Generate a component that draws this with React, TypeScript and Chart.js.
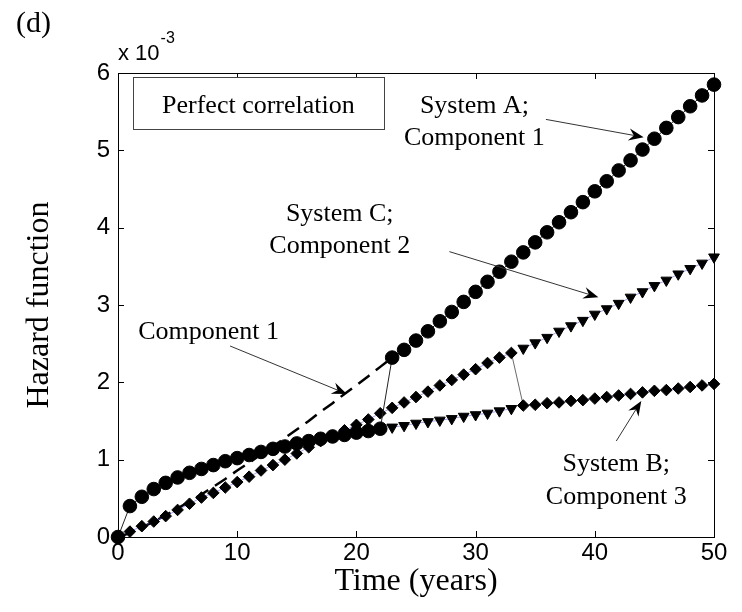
import React, { useEffect, useRef } from "react";
import { Chart, registerables } from "chart.js";

Chart.register(...registerables);

// Time (years)
const years = [
  0, 1, 2, 3, 4, 5, 6, 7, 8, 9, 10, 11, 12, 13, 14, 15, 16, 17, 18, 19, 20, 21, 22, 23, 24, 25,
  26, 27, 28, 29, 30, 31, 32, 33, 34, 35, 36, 37, 38, 39, 40, 41, 42, 43, 44, 45, 46, 47, 48, 49, 50,
];
// Hazard function values, in units of 10^-3
// System A (circles)
const systemA = [
  0, 0.4, 0.52, 0.62, 0.7, 0.77, 0.83, 0.88, 0.93, 0.98, 1.02, 1.06, 1.1, 1.14, 1.17, 1.21, 1.24,
  1.27, 1.3, 1.32, 1.35, 1.37, 1.4, 2.32, 2.42, 2.54, 2.66, 2.79, 2.91, 3.04, 3.17, 3.3, 3.43, 3.56,
  3.68, 3.81, 3.94, 4.07, 4.2, 4.33, 4.47, 4.6, 4.74, 4.87, 5.01, 5.15, 5.29, 5.43, 5.57, 5.71, 5.85,
];
// System B (diamonds)
const systemB = [
  0, 0.07, 0.14, 0.2, 0.27, 0.35, 0.43, 0.51, 0.57, 0.64, 0.71, 0.78, 0.86, 0.93, 1.0, 1.08, 1.16,
  1.24, 1.31, 1.38, 1.45, 1.52, 1.6, 1.67, 1.74, 1.81, 1.88, 1.96, 2.03, 2.1, 2.17, 2.25, 2.32, 2.38,
  1.7, 1.71, 1.73, 1.74, 1.76, 1.77, 1.79, 1.81, 1.83, 1.85, 1.87, 1.89, 1.9, 1.92, 1.94, 1.96, 1.98,
];
// System C (triangles)
const yearsC = [
  23, 24, 25, 26, 27, 28, 29, 30, 31, 32, 33, 34, 35, 36, 37, 38, 39, 40, 41, 42, 43, 44, 45, 46, 47,
  48, 49, 50,
];
const systemC = [
  1.42, 1.44, 1.47, 1.49, 1.51, 1.53, 1.56, 1.58, 1.6, 1.63, 1.66, 2.44, 2.51, 2.58, 2.66, 2.73, 2.8,
  2.88, 2.95, 3.02, 3.1, 3.17, 3.25, 3.32, 3.4, 3.47, 3.54, 3.62,
];
// Component 1 (dashed)
const yearsComponent1 = [
  0, 1, 2, 3, 4, 5, 6, 7, 8, 9, 10, 11, 12, 13, 14, 15, 16, 17, 18, 19, 20, 21, 22, 23,
];
const component1 = [
  0, 0.05, 0.12, 0.2, 0.28, 0.37, 0.46, 0.55, 0.65, 0.75, 0.86, 0.96, 1.07, 1.17, 1.28, 1.39, 1.5,
  1.62, 1.73, 1.85, 1.96, 2.08, 2.2, 2.32,
];
const xTickValues = [0, 10, 20, 30, 40, 50];
const yTickValues = [0, 1, 2, 3, 4, 5, 6];

const textNotes = [
  { text: "System A;", x: 29.9, y: 5.48 },
  { text: "Component 1", x: 29.9, y: 5.07 },
  { text: "System C;", x: 18.6, y: 4.09 },
  { text: "Component 2", x: 18.6, y: 3.67 },
  { text: "Component 1", x: 7.6, y: 2.56 },
  { text: "System B;", x: 41.8, y: 0.85 },
  { text: "Component 3", x: 41.8, y: 0.43 },
];
const arrowNotes = [
  { from: [35.9, 5.4], to: [44.1, 5.17] },
  { from: [27.8, 3.69], to: [40.3, 3.1] },
  { from: [9.4, 2.47], to: [19.2, 1.85] },
  { from: [41.8, 1.24], to: [43.9, 1.76] },
];
const boxNote = { text: "Perfect correlation", x0: 1.26, x1: 22.3, y0: 5.28, y1: 5.95, ty: 5.48 };

const SERIF = "'Liberation Serif', 'Times New Roman', serif";
const SANS = "'Liberation Sans', Arial, sans-serif";

const pts = (xs: number[], ys: number[]) => xs.map((x, i) => ({ x, y: ys[i] }));

function drawArrow(ctx: CanvasRenderingContext2D, x1: number, y1: number, x2: number, y2: number) {
  const ang = Math.atan2(y2 - y1, x2 - x1);
  const L = 15;
  const W = 6;
  const N = 10;
  const cos = Math.cos(ang);
  const sin = Math.sin(ang);
  const bx = x2 - cos * L;
  const by = y2 - sin * L;
  const nx = x2 - cos * N;
  const ny = y2 - sin * N;
  ctx.beginPath();
  ctx.moveTo(x1, y1);
  ctx.lineTo(nx, ny);
  ctx.strokeStyle = "#333";
  ctx.lineWidth = 1;
  ctx.stroke();
  ctx.beginPath();
  ctx.moveTo(x2, y2);
  ctx.lineTo(bx - sin * W, by + cos * W);
  ctx.lineTo(nx, ny);
  ctx.lineTo(bx + sin * W, by - cos * W);
  ctx.closePath();
  ctx.fillStyle = "#000";
  ctx.fill();
}

const decorPlugin = {
  id: "decor",
  beforeDatasetsDraw(chart: any) {
    const { ctx, chartArea: a, scales } = chart;
    const xs = scales.x;
    const ys = scales.y;
    ctx.save();
    ctx.strokeStyle = "#000";
    ctx.lineWidth = 1;
    ctx.strokeRect(a.left + 0.5, a.top + 0.5, a.right - a.left, a.bottom - a.top);
    const T = 6;
    ctx.beginPath();
    xTickValues.forEach((v) => {
      const p = Math.round(xs.getPixelForValue(v)) + 0.5;
      ctx.moveTo(p, a.bottom);
      ctx.lineTo(p, a.bottom - T);
      ctx.moveTo(p, a.top);
      ctx.lineTo(p, a.top + T);
    });
    yTickValues.forEach((v) => {
      const p = Math.round(ys.getPixelForValue(v)) + 0.5;
      ctx.moveTo(a.left, p);
      ctx.lineTo(a.left + T, p);
      ctx.moveTo(a.right, p);
      ctx.lineTo(a.right - T, p);
    });
    ctx.stroke();
    ctx.restore();
  },
  afterDraw(chart: any) {
    const { ctx, chartArea: a, scales } = chart;
    const xs = scales.x;
    const ys = scales.y;
    const X = (v: number) => xs.getPixelForValue(v);
    const Y = (v: number) => ys.getPixelForValue(v);
    ctx.save();
    // box note
    const bx0 = Math.round(X(boxNote.x0)) + 0.5;
    const bx1 = Math.round(X(boxNote.x1)) + 0.5;
    const by0 = Math.round(Y(boxNote.y1)) + 0.5;
    const by1 = Math.round(Y(boxNote.y0)) + 0.5;
    ctx.fillStyle = "#fff";
    ctx.fillRect(bx0, by0, bx1 - bx0, by1 - by0);
    ctx.strokeStyle = "#444";
    ctx.lineWidth = 1;
    ctx.strokeRect(bx0, by0, bx1 - bx0, by1 - by0);
    ctx.fillStyle = "#000";
    ctx.font = `26px ${SERIF}`;
    ctx.textAlign = "center";
    ctx.textBaseline = "alphabetic";
    ctx.fillText(boxNote.text, X((boxNote.x0 + boxNote.x1) / 2), Y(boxNote.ty));
    // text notes
    textNotes.forEach((n) => ctx.fillText(n.text, X(n.x), Y(n.y)));
    // arrows
    arrowNotes.forEach((ar) => drawArrow(ctx, X(ar.from[0]), Y(ar.from[1]), X(ar.to[0]), Y(ar.to[1])));
    // panel label
    ctx.fillStyle = "#000";
    ctx.textAlign = "left";
    ctx.font = `30px ${SERIF}`;
    ctx.fillText("(d)", 16, 32);
    // exponent label
    ctx.font = `22px ${SANS}`;
    const base = "x 10";
    ctx.fillText(base, a.left, a.top - 13);
    const w = ctx.measureText(base).width;
    ctx.font = `16px ${SANS}`;
    ctx.fillText("-3", a.left + w + 1, a.top - 30);
    ctx.restore();
  },
};

export default function App() {
  const ref = useRef<HTMLCanvasElement | null>(null);
  useEffect(() => {
    if (!ref.current) return;
    const chart = new Chart(ref.current, {
      type: "line",
      data: {
        datasets: [
          {
            label: "System A",
            data: pts(years, systemA),
            borderColor: "#222",
            borderWidth: 1,
            pointStyle: "circle",
            pointRadius: 6.8,
            pointBackgroundColor: "#000",
            pointBorderColor: "#000",
            pointBorderWidth: 1,
            clip: false,
          },
          {
            label: "System C",
            data: pts(yearsC, systemC),
            borderColor: "rgba(90,90,220,0.7)",
            borderWidth: 0.8,
            pointStyle: "triangle",
            pointRotation: 180,
            pointRadius: 6.2,
            pointBackgroundColor: "#000",
            pointBorderColor: "#000",
            pointBorderWidth: 1,
            clip: false,
            segment: {
              borderColor: (c: any) => (c.p0.parsed.x === 33 ? "rgba(0,0,0,0)" : undefined),
            },
          },
          {
            label: "System B",
            data: pts(years, systemB),
            borderColor: "rgba(90,90,220,0.7)",
            borderWidth: 0.8,
            pointStyle: "rectRot",
            pointRadius: 5.8,
            pointBackgroundColor: "#000",
            pointBorderColor: "#000",
            pointBorderWidth: 1,
            clip: false,
            segment: {
              borderColor: (c: any) => (c.p0.parsed.x === 33 ? "#444" : undefined),
            },
          },
          {
            label: "Component 1",
            data: pts(yearsComponent1, component1),
            borderColor: "#000",
            borderWidth: 2.5,
            borderDash: [14, 8],
            pointRadius: 0,
            clip: false,
          },
        ],
      },
      options: {
        animation: false,
        responsive: false,
        devicePixelRatio: 1,
        layout: { padding: { left: 0, right: 28, top: 73, bottom: 0 } },
        plugins: { legend: { display: false }, tooltip: { enabled: false } },
        elements: { line: { tension: 0 } },
        scales: {
          x: {
            type: "linear",
            min: 0,
            max: 50,
            afterBuildTicks: (s: any) => {
              s.ticks = xTickValues.map((v) => ({ value: v }));
            },
            afterFit: (s: any) => {
              s.height = 75;
            },
            grid: { display: false, drawTicks: false },
            border: { display: false },
            ticks: {
              color: "#000",
              font: { family: SANS, size: 24 },
              padding: 2,
              maxRotation: 0,
              autoSkip: false,
            },
            title: {
              display: true,
              text: "Time (years)",
              color: "#000",
              font: { family: SERIF, size: 32 },
              padding: { top: 0, bottom: 11 },
            },
          },
          y: {
            type: "linear",
            min: 0,
            max: 6,
            afterBuildTicks: (s: any) => {
              s.ticks = yTickValues.map((v) => ({ value: v }));
            },
            afterFit: (s: any) => {
              s.width = 118;
            },
            grid: { display: false, drawTicks: false },
            border: { display: false },
            ticks: {
              color: "#000",
              font: { family: SANS, size: 24 },
              padding: 8,
              autoSkip: false,
            },
            title: {
              display: true,
              text: "Hazard function",
              color: "#000",
              font: { family: SERIF, size: 32 },
              padding: { top: 20, bottom: 0 },
            },
          },
        },
      },
      plugins: [decorPlugin],
    } as any);
    return () => chart.destroy();
  }, []);
  return (
    <div style={{ position: "fixed", left: 0, top: 0, width: 742, height: 612, background: "#fff" }}>
      <canvas ref={ref} width={742} height={612} style={{ display: "block", width: 742, height: 612 }} />
    </div>
  );
}
